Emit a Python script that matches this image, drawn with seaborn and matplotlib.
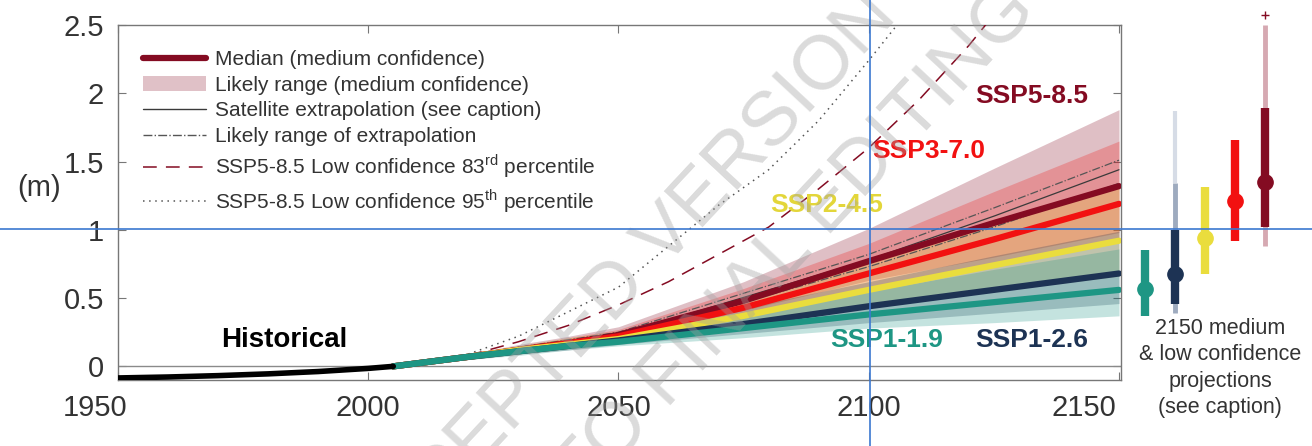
import numpy as np
import pandas as pd
import seaborn as sns
import matplotlib
matplotlib.use("Agg")
import matplotlib.pyplot as plt
import matplotlib.transforms as mtrans
from matplotlib.lines import Line2D
from matplotlib.patches import Patch

# --- data ---
hist_years = [1950, 1960, 1970, 1980, 1990, 2000, 2005]
hist_vals = [-0.085, -0.078, -0.068, -0.055, -0.038, -0.015, 0.0]

proj_years = [2005, 2020, 2030, 2040, 2050, 2075, 2100, 2125, 2150]
ssp119_med = [0.0, 0.07, 0.11, 0.15, 0.18, 0.28, 0.38, 0.47, 0.56]
ssp126_med = [0.0, 0.07, 0.11, 0.15, 0.19, 0.31, 0.44, 0.56, 0.68]
ssp245_med = [0.0, 0.07, 0.12, 0.16, 0.20, 0.37, 0.56, 0.74, 0.92]
ssp370_med = [0.0, 0.07, 0.12, 0.17, 0.22, 0.43, 0.68, 0.93, 1.19]
ssp585_med = [0.0, 0.07, 0.12, 0.17, 0.23, 0.48, 0.77, 1.05, 1.32]

ssp119_lo = [0.0, 0.05, 0.08, 0.12, 0.15, 0.21, 0.28, 0.32, 0.37]
ssp119_hi = [0.0, 0.09, 0.14, 0.19, 0.23, 0.38, 0.55, 0.71, 0.86]
ssp126_lo = [0.0, 0.05, 0.09, 0.12, 0.16, 0.24, 0.32, 0.39, 0.46]
ssp126_hi = [0.0, 0.09, 0.15, 0.20, 0.25, 0.43, 0.62, 0.81, 0.99]
ssp245_lo = [0.0, 0.05, 0.09, 0.13, 0.17, 0.30, 0.44, 0.55, 0.66]
ssp245_hi = [0.0, 0.09, 0.15, 0.21, 0.26, 0.50, 0.76, 1.05, 1.33]
ssp370_lo = [0.0, 0.05, 0.09, 0.13, 0.18, 0.36, 0.55, 0.73, 0.92]
ssp370_hi = [0.0, 0.09, 0.15, 0.21, 0.27, 0.57, 0.90, 1.28, 1.65]
ssp585_lo = [0.0, 0.05, 0.10, 0.14, 0.20, 0.41, 0.63, 0.80, 0.98]
ssp585_hi = [0.0, 0.09, 0.16, 0.22, 0.29, 0.62, 1.01, 1.45, 1.88]

# satellite extrapolation and its likely range
sat_years = [2005, 2050, 2100, 2125, 2150]
sat_mid = [0.0, 0.23, 0.78, 1.10, 1.44]
sat_lo = [0.0, 0.21, 0.73, 1.02, 1.34]
sat_hi = [0.0, 0.25, 0.82, 1.16, 1.51]

# SSP5-8.5 low confidence percentiles
lc_years = [2020, 2030, 2040, 2050, 2060, 2070, 2080, 2090, 2100, 2110, 2120, 2130]
lc_p83 = [0.08, 0.18, 0.30, 0.45, 0.62, 0.82, 1.02, 1.30, 1.60, 1.95, 2.35, 2.80]
lc_p95 = [0.09, 0.22, 0.40, 0.58, 0.88, 1.18, 1.44, 1.80, 2.24, 2.70, 3.20, 3.70]

# 2150 projections (right panel)
scenarios = ["SSP1-1.9", "SSP1-2.6", "SSP2-4.5", "SSP3-7.0", "SSP5-8.5"]
bar_med = [0.57, 0.68, 0.94, 1.21, 1.35]
bar_lo = [0.37, 0.46, 0.68, 0.92, 1.02]
bar_hi = [0.85, 1.00, 1.31, 1.66, 1.89]
low_conf_scen = ["SSP1-2.6", "SSP5-8.5"]
low_conf_lo = [0.39, 0.88]
low_conf_hi = [1.34, 2.50]
low_conf_top = [1.87, 2.57]

x_ticks = [1950, 2000, 2050, 2100, 2150]
y_ticks = [0, 0.5, 1, 1.5, 2, 2.5]
y_tick_labels = ["0", "0.5", "1", "1.5", "2", "2.5"]

colors = {"SSP1-1.9": "#1E9684", "SSP1-2.6": "#1D3354", "SSP2-4.5": "#EADD3D",
          "SSP3-7.0": "#F21111", "SSP5-8.5": "#840B22"}

sns.set_theme(style="white")
plt.rcParams["font.family"] = ["Liberation Sans", "DejaVu Sans"]
plt.rcParams["mathtext.fontset"] = "custom"
plt.rcParams["mathtext.rm"] = "Liberation Sans"

W, H = 1312, 446
fig = plt.figure(figsize=(W / 100, H / 100), dpi=100)
ax = fig.add_axes([118 / W, 66 / H, 1003 / W, 355 / H])

medians = {"SSP5-8.5": ssp585_med, "SSP3-7.0": ssp370_med, "SSP2-4.5": ssp245_med,
           "SSP1-2.6": ssp126_med, "SSP1-1.9": ssp119_med}
ranges = {"SSP5-8.5": (ssp585_lo, ssp585_hi), "SSP3-7.0": (ssp370_lo, ssp370_hi),
          "SSP2-4.5": (ssp245_lo, ssp245_hi), "SSP1-2.6": (ssp126_lo, ssp126_hi),
          "SSP1-1.9": (ssp119_lo, ssp119_hi)}
draw_order = list(medians.keys())

# likely ranges
for s in draw_order:
    lo, hi = ranges[s]
    ax.fill_between(proj_years, lo, hi, color=colors[s], alpha=0.26, lw=0, zorder=1)

ax.axhline(0, color="#8a8a8a", lw=1, zorder=1.5)

# satellite extrapolation
ax.plot(sat_years, sat_mid, color="#3a3a3a", lw=0.9, zorder=3)
ax.plot(sat_years, sat_lo, color="#555555", lw=0.9, ls="-.", zorder=3)
ax.plot(sat_years, sat_hi, color="#555555", lw=0.9, ls="-.", zorder=3)

# medians
df = pd.DataFrame({
    "year": proj_years * len(draw_order),
    "value": sum([medians[s] for s in draw_order], []),
    "scenario": np.repeat(draw_order, len(proj_years)),
})
sns.lineplot(data=df, x="year", y="value", hue="scenario", hue_order=draw_order,
             palette=colors, lw=4.5, legend=False, ax=ax, zorder=4)
sns.lineplot(x=hist_years, y=hist_vals, color="black", lw=4, ax=ax, zorder=4)

# low confidence lines
ax.plot(lc_years, lc_p83, color="#840B22", lw=1.1, ls=(0, (9, 6)), zorder=3)
ax.plot(lc_years, lc_p95, color="#555555", lw=1.1, ls=(0, (1, 3)), zorder=3)

ax.set_xlim(1950, 2150.4)
ax.set_ylim(-0.1, 2.5)
ax.set_xticks(x_ticks)
ax.set_yticks(y_ticks)
ax.set_yticklabels(y_tick_labels)
ax.set_xlabel("")
ax.set_ylabel("")
ax.tick_params(direction="in", top=True, right=True, bottom=True, left=True,
               length=6, width=0.8, color="#777777", labelsize=21,
               labelcolor="#333333", pad=10)
for sp in ax.spines.values():
    sp.set_color("#777777")
    sp.set_linewidth(1)

# end year labels sit a little to the left of their ticks in the reference
xlabs = ax.get_xticklabels()
for lab, dx in [(xlabs[0], -23), (xlabs[-1], -35)]:
    lab.set_transform(lab.get_transform() + mtrans.ScaledTranslation(dx / 100, 0, fig.dpi_scale_trans))

# scenario labels
lab_pos = {"SSP5-8.5": (2132.5, 1.98), "SSP3-7.0": (2112, 1.58), "SSP2-4.5": (2091.5, 1.18),
           "SSP1-1.9": (2103.5, 0.19), "SSP1-2.6": (2132.5, 0.19)}
for s, (lx, ly) in lab_pos.items():
    c = "#E3D63A" if s == "SSP2-4.5" else colors[s]
    ax.text(lx, ly, s, color=c, fontsize=19, fontweight="bold", ha="center", va="center", zorder=6)
ax.text(1983.2, 0.19, "Historical", color="black", fontsize=20, fontweight="bold",
        ha="center", va="center", zorder=6)

handles = [
    Line2D([], [], color="#840B22", lw=4.5),
    Patch(facecolor="#840B22", alpha=0.25, lw=0),
    Line2D([], [], color="#3a3a3a", lw=1),
    Line2D([], [], color="#555555", lw=1, ls="-."),
    Line2D([], [], color="#840B22", lw=1.1, ls=(0, (9, 6))),
    Line2D([], [], color="#555555", lw=1.1, ls=(0, (1, 3))),
]
labels = [
    "Median (medium confidence)",
    "Likely range (medium confidence)",
    "Satellite extrapolation (see caption)",
    "Likely range of extrapolation",
    "SSP5-8.5 Low confidence 83$^{\\mathrm{rd}}$ percentile",
    "SSP5-8.5 Low confidence 95$^{\\mathrm{th}}$ percentile",
]
leg = ax.legend(handles, labels, loc="upper left", bbox_to_anchor=(0.025, 0.93),
                frameon=False, fontsize=15, handlelength=3.0, handletextpad=0.45,
                labelspacing=0.32, borderpad=0, borderaxespad=0)
for t in leg.get_texts():
    t.set_color("#333333")

# right panel: 2150 projections
ax2 = fig.add_axes([1130 / W, 66 / H, 150 / W, 355 / H])
ax2.set_xlim(0.5, 5.5)
ax2.set_ylim(-0.1, 2.5)
ax2.axis("off")
xpos = {s: i + 1 for i, s in enumerate(scenarios)}
light_top = {"SSP1-2.6": "#d6dce6", "SSP5-8.5": "#dcb3bb"}
light_mid = {"SSP1-2.6": "#9eabbf", "SSP5-8.5": "#d6a9b2"}
for s, lo, hi, top in zip(low_conf_scen, low_conf_lo, low_conf_hi, low_conf_top):
    x = xpos[s]
    ax2.vlines(x, hi, min(top, 2.5), color=light_top[s], lw=3, clip_on=False)
    ax2.vlines(x, lo, hi, color=light_mid[s], lw=3.5, clip_on=False)
    if top > 2.5:
        ax2.plot([x], [top], marker="+", color="#840B22", ms=6, mew=1, clip_on=False)
for s, m, lo, hi in zip(scenarios, bar_med, bar_lo, bar_hi):
    x = xpos[s]
    ax2.vlines(x, lo, hi, color=colors[s], lw=6, clip_on=False)
    ax2.plot([x], [m], marker="o", color=colors[s], ms=11, clip_on=False)

fig.text(1220 / W, 1 - 368 / H, "2150 medium\n& low confidence\nprojections\n(see caption)",
         fontsize=15.5, color="#333333", ha="center", va="center", linespacing=1.33)
fig.text(39 / W, 1 - 188 / H, "(m)", fontsize=21, color="#333333", ha="center", va="center")

# watermark
for txt, cx, cy in [("ACCEPTED VERSION", 618, 290), ("SUBJECT TO FINAL EDITING", 670, 377)]:
    fig.text(cx / W, 1 - cy / H, txt, fontsize=55, rotation=47, color="#a0a0a0", alpha=0.38,
             ha="center", va="center", rotation_mode="anchor", zorder=20)

# blue guide lines present in the reference
fig.add_artist(Line2D([870 / W, 870 / W], [0, 1], color="#3b78d0", lw=1.2, transform=fig.transFigure, zorder=30))
fig.add_artist(Line2D([0, 1], [1 - 229 / H, 1 - 229 / H], color="#3b78d0", lw=1.2, transform=fig.transFigure, zorder=30))

fig.savefig("out.png", dpi=100)
